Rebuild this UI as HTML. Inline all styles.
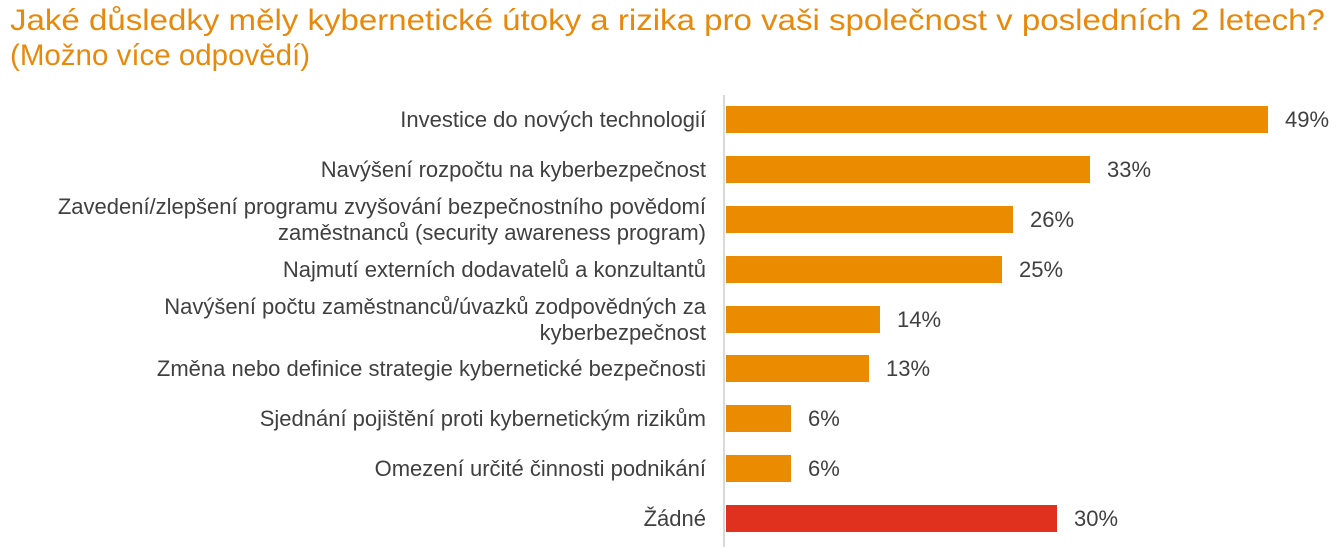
<!DOCTYPE html><html><head><meta charset="utf-8"><style>
body{margin:0;width:1337px;height:547px;background:#fff;font-family:"Liberation Sans",Arial,sans-serif;position:relative;overflow:hidden}
.t{position:absolute;left:10px;top:3px;color:#E8890C;font-size:29.5px;line-height:35px;white-space:nowrap}
.t span{display:inline-block;transform:scaleX(1.12);transform-origin:0 0}
.ax{position:absolute;left:723px;top:95px;width:2px;height:452px;background:#d9d9d9}
.b{position:absolute;left:726px;height:27px;background:#EB8C00}
.l{position:absolute;right:631px;text-align:right;color:#404040;font-size:22px;line-height:26px;transform:translateY(-50%);white-space:nowrap}
.v{position:absolute;color:#404040;font-size:22px;transform:translateY(-50%)}
</style></head><body>
<div class="t"><span>Jaké důsledky měly kybernetické útoky a rizika pro vaši společnost v posledních 2 letech?</span><br>(Možno více odpovědí)</div>
<div class="ax"></div>
<div class="b" style="top:106px;width:542px"></div><div class="l" style="top:120px">Investice do nových technologií</div><div class="v" style="left:1285px;top:120px">49%</div>
<div class="b" style="top:156px;width:364px"></div><div class="l" style="top:170px">Navýšení rozpočtu na kyberbezpečnost</div><div class="v" style="left:1107px;top:170px">33%</div>
<div class="b" style="top:206px;width:287px"></div><div class="l" style="top:220px">Zavedení/zlepšení programu zvyšování bezpečnostního povědomí<br>zaměstnanců (security awareness program)</div><div class="v" style="left:1030px;top:220px">26%</div>
<div class="b" style="top:256px;width:276px"></div><div class="l" style="top:270px">Najmutí externích dodavatelů a konzultantů</div><div class="v" style="left:1019px;top:270px">25%</div>
<div class="b" style="top:306px;width:154px"></div><div class="l" style="top:320px">Navýšení počtu zaměstnanců/úvazků zodpovědných za<br>kyberbezpečnost</div><div class="v" style="left:897px;top:320px">14%</div>
<div class="b" style="top:355px;width:143px"></div><div class="l" style="top:369px">Změna nebo definice strategie kybernetické bezpečnosti</div><div class="v" style="left:886px;top:369px">13%</div>
<div class="b" style="top:405px;width:65px"></div><div class="l" style="top:419px">Sjednání pojištění proti kybernetickým rizikům</div><div class="v" style="left:808px;top:419px">6%</div>
<div class="b" style="top:455px;width:65px"></div><div class="l" style="top:469px">Omezení určité činnosti podnikání</div><div class="v" style="left:808px;top:469px">6%</div>
<div class="b" style="top:505px;width:331px;background:#E0301E"></div><div class="l" style="top:519px">Žádné</div><div class="v" style="left:1074px;top:519px">30%</div>
</body></html>
